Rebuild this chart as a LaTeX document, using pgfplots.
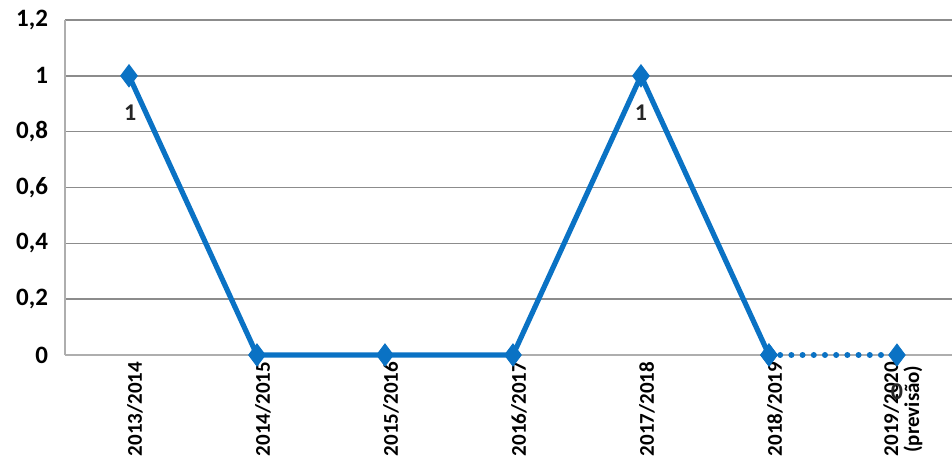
\documentclass[border=0pt]{standalone}
\usepackage{fontspec}
\setmainfont{Carlito}
\usepackage{pgfplots}
\pgfplotsset{compat=1.18}
\definecolor{lineblue}{RGB}{10,114,196}
\definecolor{gridgray}{RGB}{140,140,140}
\begin{document}
\begin{tikzpicture}
\begin{axis}[
  scale only axis,
  width=443.5pt, height=167.5pt,
  xmin=-0.5, xmax=6.43,
  ymin=0, ymax=1.2,
  ytick={0,0.2,0.4,0.6,0.8,1,1.2},
  xtick={0,1,2,3,4,5,6},
  xticklabels={2013/2014,2014/2015,2015/2016,2016/2017,2017/2018,2018/2019,{2019/2020\\(previsão)}},
  x tick label style={rotate=90, anchor=east, font=\bfseries\fontsize{10.5}{10.5}\selectfont, align=center},
  y tick label style={font=\bfseries\fontsize{12.5}{13}\selectfont},
  /pgf/number format/use comma,
  /pgf/number format/assume math mode=true,
  ymajorgrids,
  grid style={gridgray, line width=0.8pt},
  axis x line*=bottom,
  axis y line*=left,
  axis line style={gridgray!70, line width=0.8pt},
  major tick length=0pt,
  yticklabel style={xshift=-5pt},
  xticklabel style={yshift=-3pt},
  clip=false,
]
\addplot[lineblue, line width=2.6pt, mark=diamond*, mark size=5.5pt, mark options={solid, line width=0.5pt}] coordinates {(0,1) (1,0) (2,0) (3,0) (4,1) (5,0)};
\addplot[lineblue, line width=3pt, line cap=round, dash pattern=on 0pt off 5.6pt] coordinates {(5,0) (6,0)};
\addplot[lineblue, only marks, mark=diamond*, mark size=5.5pt] coordinates {(5,0) (6,0)};
\addplot[draw=none, nodes near coords, point meta=explicit symbolic,
  every node near coord/.style={anchor=center, yshift=-18.5pt, font=\bfseries\fontsize{12}{12}\selectfont, text=black!85}]
  coordinates {(0.01,1) [1] (4,1) [1] (6,0) [0]};
\end{axis}
\pgfresetboundingbox
\path (current axis.south west) ++(-32.5pt,-54.5pt) coordinate (bl);
\path (current axis.north east) ++(0pt,10pt) coordinate (tr);
\path[use as bounding box] (bl) rectangle (tr);
\end{tikzpicture}
\end{document}
